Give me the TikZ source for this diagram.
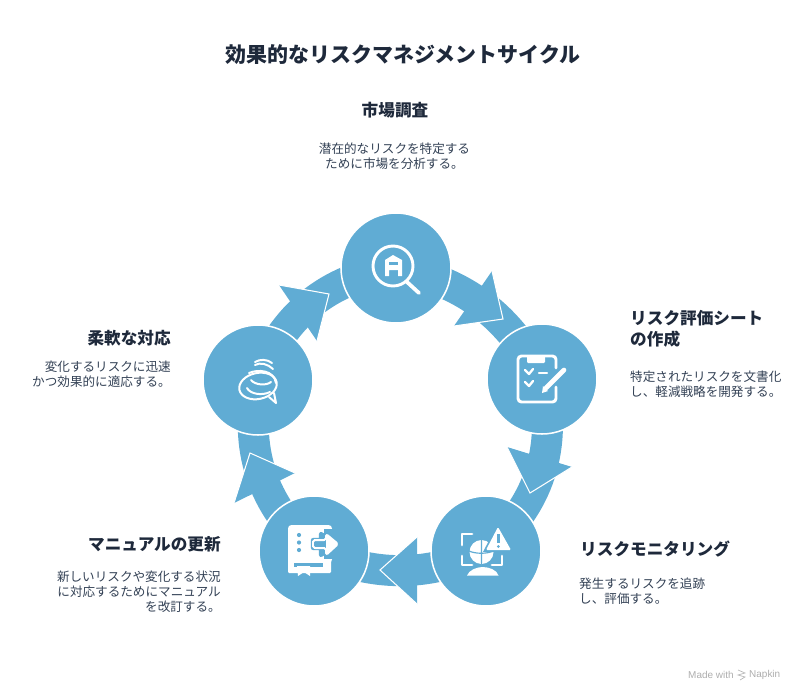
\documentclass[tikz,border=0pt]{standalone}
\usepackage{fontspec}
\setmainfont{Noto Sans CJK JP}
\newfontfamily\latinfont{Liberation Sans}
\usetikzlibrary{backgrounds}
\definecolor{ringblue}{HTML}{60ACD4}
\definecolor{inkdark}{HTML}{1E293B}
\definecolor{inkbody}{HTML}{334155}
\tikzset{
  stepdisc/.style={circle,fill=ringblue,draw=white,line width=1.3pt,minimum size=3.3cm,inner sep=0pt},
  ring/.style={draw=ringblue,line width=0.93cm},
  headfill/.style={fill=ringblue},
  headedge/.style={draw=white,line width=0.9pt},
  iconline/.style={draw=white,line width=2.5pt,line cap=round,line join=round},
  iconthin/.style={draw=white,line width=1.7pt,line cap=round,line join=round},
  titletext/.style={inner sep=0pt,text=inkdark,font=\fontsize{17.9}{22}\selectfont\bfseries},
  headtext/.style={inner sep=0pt,text=inkdark,font=\fontsize{14.2}{18}\selectfont\bfseries},
  bodytext/.style={inner sep=0pt,text=inkbody,font=\fontsize{10.75}{12.8}\selectfont},
  foottext/.style={inner sep=0pt,anchor=west,text=black!32,font=\latinfont\fontsize{8.5}{10}\selectfont},
}
\begin{document}
\begin{tikzpicture}[x=0.03cm,y=-0.03cm]
\useasboundingbox (0,0) rectangle (800,698);

\node[titletext] (title) at (403,54.5) {効果的なリスクマネジメントサイクル};

% circles
\node[stepdisc] (market) at (396,268) {};
\node[stepdisc] (sheet) at (542,379) {};
\node[stepdisc] (monitor) at (486,551) {};
\node[stepdisc] (manual) at (314,551) {};
\node[stepdisc] (flex) at (258,380) {};

\begin{scope}[on background layer]
\draw[ring] (market.center) to[bend left=25] (sheet.center);
\draw[ring] (sheet.center) to[bend left=31] (monitor.center);
\draw[ring] (monitor.center) to[bend left=23] (manual.center);
\draw[ring] (manual.center) to[bend left=30] (flex.center);
\draw[ring] (flex.center) to[bend left=30] (market.center);
% heads
\fill[headfill] (492,271) -- (503,319) -- (454,326) -- cycle;
\draw[headedge] (492,271) -- (503,319) -- (454,326);
\fill[headfill] (507,447) -- (530,493) -- (572,467) -- cycle;
\draw[headedge] (507,447) -- (530,493) -- (572,467);
\fill[headfill] (417,537) -- (380,570) -- (417,604) -- cycle;
\draw[headedge] (417,537) -- (380,570) -- (417,604);
\fill[headfill] (234,503) -- (250,453) -- (295,473) -- cycle;
\draw[headedge] (234,503) -- (250,453) -- (295,473);
\fill[headfill] (279,285) -- (329,294) -- (317,341) -- cycle;
\draw[headedge] (279,285) -- (329,294) -- (317,341);
\end{scope}

% magnifier
\begin{scope}[shift={(market.center)}]
\draw[iconline] (-3,-2) circle (20);
\draw[iconline,line width=3.2pt] (11,14) -- (23,25);
\fill[white] (-11,8) -- (-11,-8) -- (-3,-13) -- (6,-8) -- (6,8) -- (2,8) -- (2,2) -- (-7,2) -- (-7,8) -- cycle;
\fill[ringblue] (-7,-6) rectangle (2,-3);
\end{scope}

% clipboard and pen
\begin{scope}[shift={(sheet.center)}]
\draw[iconline,rounded corners=3] (14,-11) -- (14,-23) -- (-24,-23) -- (-24,23) -- (14,23) -- (14,8);
\fill[white,rounded corners=1] (-15,-24) rectangle (3,-16);
\draw[iconline,line width=2pt] (-17,-9) -- (-13,-5) -- (-9,-10);
\draw[iconline,line width=2pt] (-17,3) -- (-13,7) -- (-9,2);
\draw[iconline,line width=2pt] (-3,-6) -- (5,-6);
\draw[iconline,line width=4pt] (4,9) -- (22,-9);
\fill[white] (0,14) -- (1,7) -- (6,12) -- cycle;
\end{scope}

% globe, frame and warning sign
\begin{scope}[shift={(monitor.center)}]
\draw[iconline] (-14,-17) -- (-24,-17) -- (-24,-6);
\draw[iconline] (-24,5) -- (-24,14) -- (-14,14);
\draw[iconline] (6,14) -- (16,14) -- (16,5);
\fill[white] (-4.5,1) circle (12);
\draw[ringblue,line width=1pt] (-17,0) .. controls (-10,3) and (0,3) .. (8,0) (-4.5,-11) -- (-4.5,13);
\draw[ringblue,line width=3pt,fill=ringblue] (12,-24) -- (0,-1) -- (25,-1) -- cycle;
\fill[white,rounded corners=1] (12,-24) -- (0,-1) -- (25,-1) -- cycle;
\fill[ringblue] (11,-17) rectangle (13.6,-8);
\fill[ringblue] (12.3,-4.5) circle (1.5);
\fill[white] (-19,24.5) .. controls (-17,19) and (-9,16) .. (-3.5,16) .. controls (3,16) and (11,19) .. (12.5,24.5) -- cycle;
\end{scope}

% book with arrow
\begin{scope}[shift={(manual.center)}]
\fill[white,rounded corners=3] (-26,-26) rectangle (18,12);
\fill[white,rounded corners=1] (-26,8) rectangle (17,22);
\fill[ringblue] (-20,12) rectangle (9,16);
\fill[white] (-17,15) -- (-4,15) -- (-4,25) -- (-10,21) -- (-16,25) -- cycle;
\fill[ringblue] (-15,-16) circle (2.1);
\fill[ringblue] (-15,-8.5) circle (2.1);
\fill[ringblue] (-15,-1) circle (2.1);
\draw[ringblue,line width=3.5pt,fill=ringblue,line join=round] (7,-17) -- (7,-11) -- (-1,-11) -- (-1,-3) -- (7,-3) -- (7,4) -- (24,-7) -- cycle;
\fill[ringblue] (10,-22) rectangle (30,8);
\draw[iconthin,fill=ringblue,rounded corners=1.5] (12,-17) -- (12,-11) -- (-1,-11) -- (-1,-3) -- (12,-3) -- (12,4) -- (24,-7) -- cycle;
\fill[white] (12,-17) -- (24,-7) -- (12,4) -- cycle;
\end{scope}

% speech bubbles
\begin{scope}[shift={(flex.center)}]
\draw[iconthin,rotate around={12:(0,6)}] (0,6) ellipse (19 and 13);
\draw[iconthin,fill=ringblue] (11,17) -- (18,23) -- (16,13);
\draw[iconthin] (-11,8) .. controls (-8,14) and (4,16) .. (12,12);
\draw[iconthin] (-7,0) .. controls (-3,5) and (8,6) .. (13,2);
\draw[iconthin] (-9,-7) .. controls (0,-11) and (16,-10) .. (18,3);
\draw[iconthin] (-3,-15) .. controls (2,-18) and (10,-16) .. (15,-11);
\draw[iconthin] (-3,-18) .. controls (2,-21) and (9,-21) .. (14,-17);
\end{scope}

% texts
\node[headtext] (markethead) at (395,110) {市場調査};
\node[bodytext,align=center] (marketbody) at (394.5,156) {潜在的なリスクを特定する\\ために市場を分析する。};
\node[headtext,anchor=west,align=left,font=\fontsize{14.2}{17.9}\selectfont\bfseries] (sheethead) at (630,329) {リスク評価シート\\の作成};
\node[bodytext,anchor=west,align=left] (sheetbody) at (630,384) {特定されたリスクを文書化\\し、軽減戦略を開発する。};
\node[headtext,anchor=west] (monitorhead) at (580,549) {リスクモニタリング};
\node[bodytext,anchor=west,align=left] (monitorbody) at (579,591) {発生するリスクを追跡\\し、評価する。};
\node[headtext,anchor=east] (manualhead) at (221,544) {マニュアルの更新};
\node[bodytext,anchor=east,align=right] (manualbody) at (221,591.5) {新しいリスクや変化する状況\\に対応するためにマニュアル\\を改訂する。};
\node[headtext,anchor=east] (flexhead) at (171,338) {柔軟な対応};
\node[bodytext,anchor=east,align=right] (flexbody) at (171,374) {変化するリスクに迅速\\かつ効果的に適応する。};

% footer
\node[foottext] (madewith) at (688,675) {Made with};
\node[foottext] (napkin) at (749,675) {Napkin};
\draw[black!28,line width=0.6pt] (738,670) -- (745,673) -- (738,675) -- (745,677) -- (740,680);
\end{tikzpicture}
\end{document}
